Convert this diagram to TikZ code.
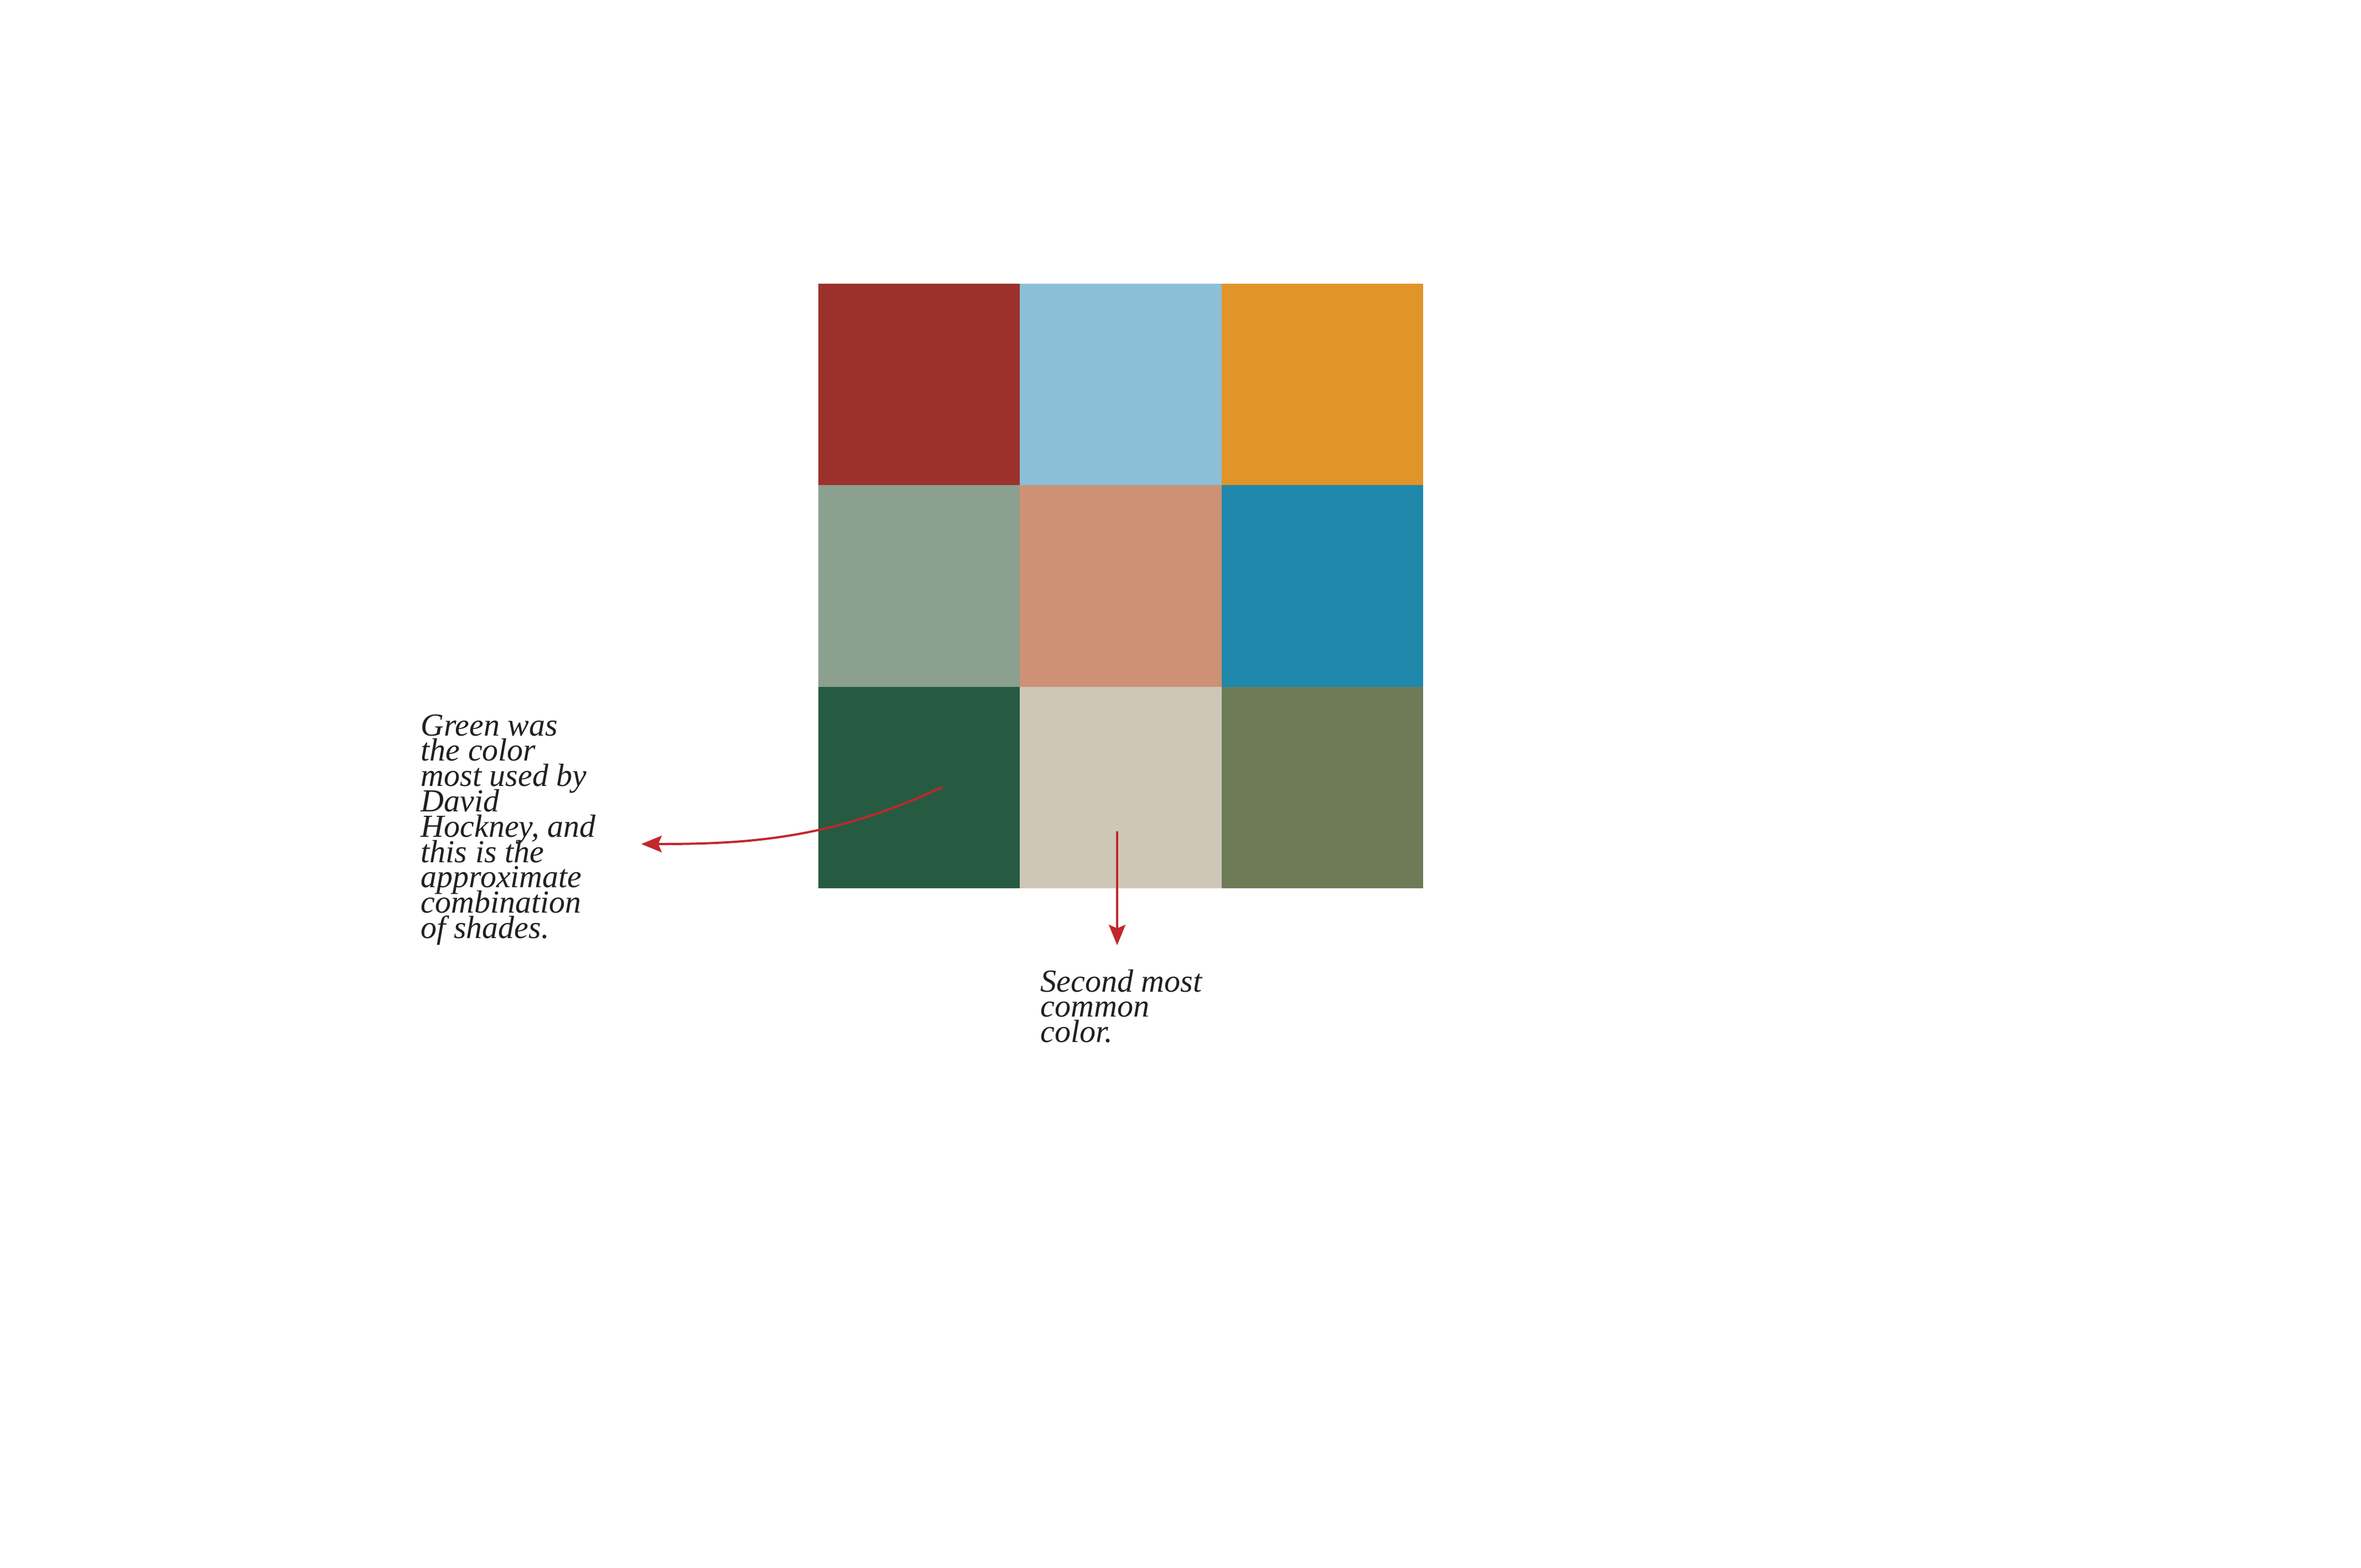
\documentclass[tikz,border=0pt]{standalone}
\usepackage{fontspec}
\setmainfont{Liberation Serif}
\usetikzlibrary{arrows.meta}
\definecolor{cRed}{HTML}{9C312B}
\definecolor{cSky}{HTML}{8BBFD7}
\definecolor{cOrange}{HTML}{E19428}
\definecolor{cSage}{HTML}{8BA08F}
\definecolor{cSalmon}{HTML}{CE9175}
\definecolor{cTeal}{HTML}{1F88AB}
\definecolor{cForest}{HTML}{265B42}
\definecolor{cBeige}{HTML}{CEC7B7}
\definecolor{cOlive}{HTML}{6D7C57}
\definecolor{arrowred}{HTML}{C1272D}
\definecolor{inktext}{HTML}{231F20}
\tikzset{
  swatch/.style={fill=#1, draw=none, inner sep=0pt, outer sep=0pt,
    minimum width=3.6433cm, minimum height=3.6433cm, anchor=north west},
  pointer/.style={draw=arrowred, line width=0.04cm,
    -{Stealth[length=0.37cm, width=0.30cm, inset=0.065cm]}},
  caption/.style={inner sep=0pt, anchor=base west, text=inktext,
    font=\fontsize{16.5pt}{13.03pt}\selectfont\itshape}
}
\newcommand{\captionlines}[1]{\vtop{\baselineskip=13.03pt\lineskiplimit=-100pt\lineskip=0pt\relax #1}}
\begin{document}
\begin{tikzpicture}
\useasboundingbox (0,0) rectangle (42.67,-28.34);
\fill[white] (0,0) rectangle (42.67,-28.34);
% grid of swatches
\node[swatch=cRed]    (c11) at (14.79,-5.13) {};
\node[swatch=cSky]    (c12) at (18.4333,-5.13) {};
\node[swatch=cOrange] (c13) at (22.0767,-5.13) {};
\node[swatch=cSage]   (c21) at (14.79,-8.7733) {};
\node[swatch=cSalmon] (c22) at (18.4333,-8.7733) {};
\node[swatch=cTeal]   (c23) at (22.0767,-8.7733) {};
\node[swatch=cForest] (c31) at (14.79,-12.4167) {};
\node[swatch=cBeige]  (c32) at (18.4333,-12.4167) {};
\node[swatch=cOlive]  (c33) at (22.0767,-12.4167) {};
% captions
\node[caption] (leftnote) at (7.60,-13.30) {\captionlines{%
\hbox{Green was}\hbox{the color}\hbox{most used by}\hbox{David}%
\hbox{Hockney, and}\hbox{this is the}\hbox{approximate}%
\hbox{combination}\hbox{of shades.}}};
\node[caption] (rightnote) at (18.80,-17.93) {\captionlines{%
\hbox{Second most}\hbox{common}\hbox{color.}}};
% arrow anchor points
\coordinate (greenstart) at (17.03,-14.23);
\coordinate (greenend) at (11.59,-15.26);
\coordinate (beigestart) at (20.19,-15.03);
\coordinate (beigeend) at (20.19,-17.09);
\draw[pointer] (greenstart) .. controls (15.03,-15.165) and (13.56,-15.26) .. (greenend);
\draw[pointer] (beigestart) -- (beigeend);
\end{tikzpicture}
\end{document}
